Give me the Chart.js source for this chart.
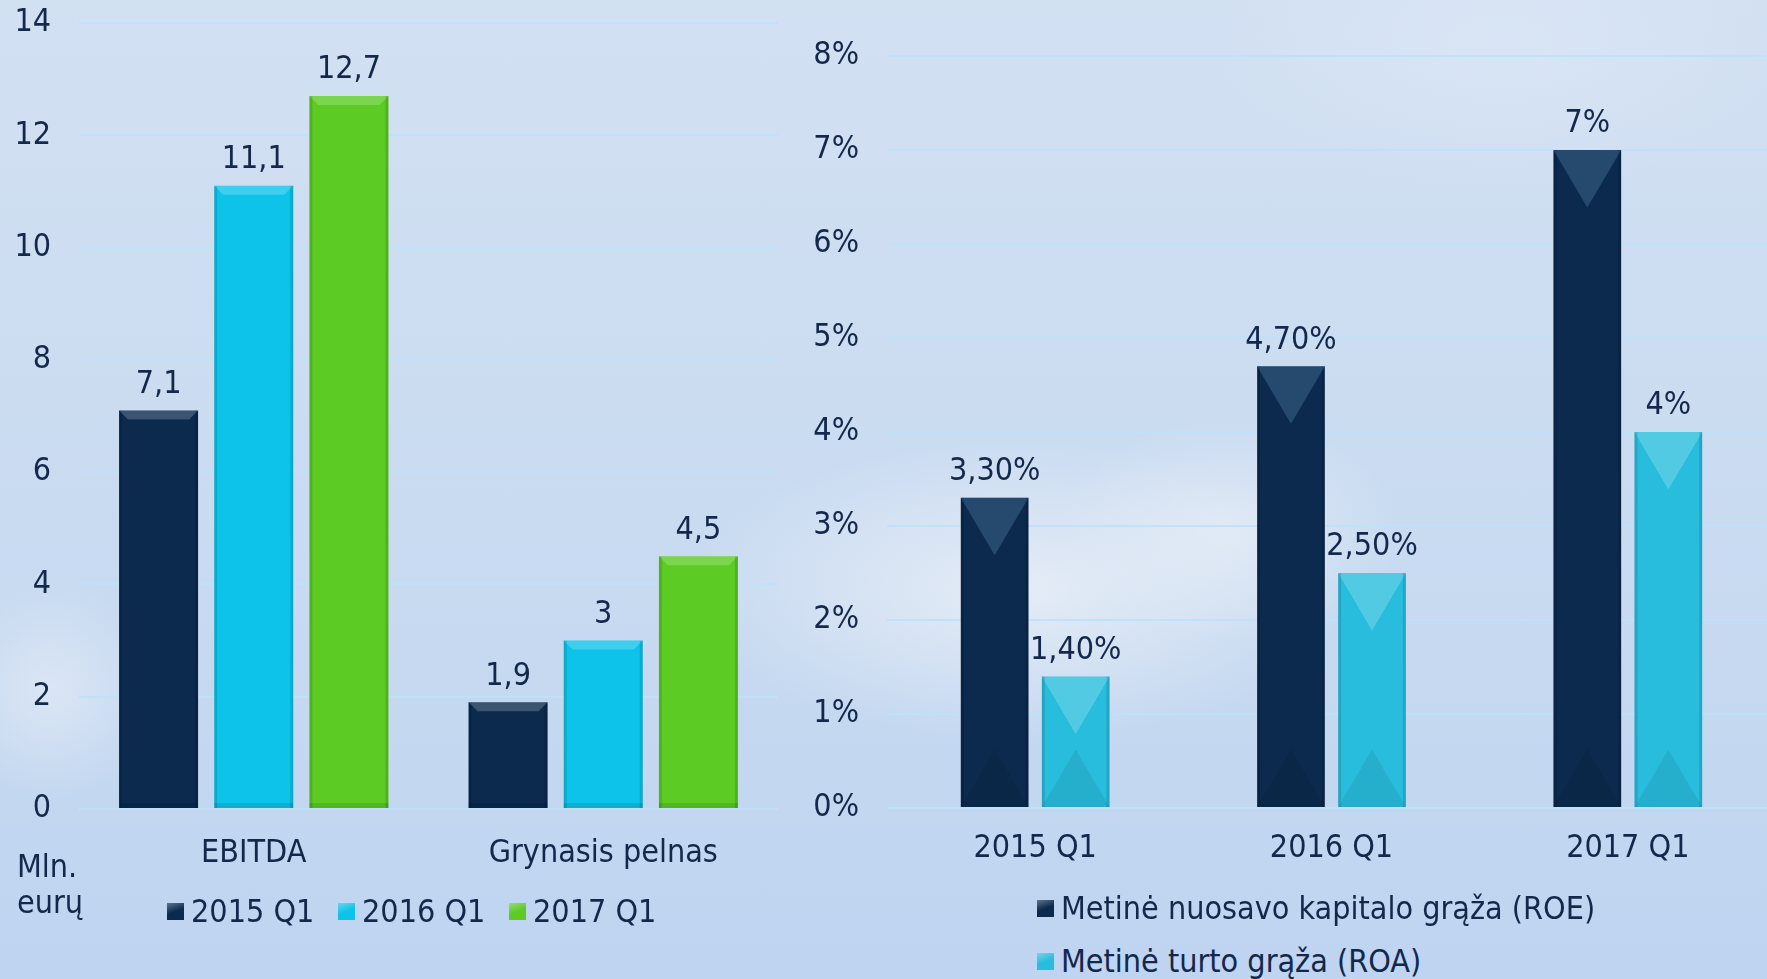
<!DOCTYPE html>
<html lang="lt">
<head>
<meta charset="utf-8">
<script src="https://cdn.jsdelivr.net/npm/chart.js@4/dist/chart.umd.min.js"></script>
<style>
  html, body { margin: 0; padding: 0; width: 1767px; height: 979px; overflow: hidden; }
  body {
    position: relative;
    font-family: "Liberation Sans Narrow", "DejaVu Sans Condensed", sans-serif;
    color: #13284a;
    background:
      radial-gradient(ellipse 330px 150px at 1020px 590px, rgba(238,242,248,0.75), rgba(238,242,248,0) 100%),
      radial-gradient(ellipse 170px 110px at 1230px 530px, rgba(236,241,248,0.6), rgba(236,241,248,0) 100%),
      radial-gradient(ellipse 110px 110px at 50px 690px, rgba(233,239,247,0.6), rgba(233,239,247,0) 100%),
      radial-gradient(ellipse 300px 150px at 1500px 40px, rgba(222,233,247,0.6), rgba(222,233,247,0) 100%),
      linear-gradient(#d2e0f2, #c9dbf1 55%, #bed4f0);
  }
  canvas { position: absolute; top: 0; }
  #kaire { left: 0; }
  #desine { left: 780px; }
  .zyme { position: absolute; font-size: 32px; line-height: 1; }
  .leg { position: absolute; display: flex; align-items: center; font-size: 32px; line-height: 1; white-space: nowrap; transform: translateY(-50%); }
  .leg i { display: inline-block; width: 17px; height: 17px; margin-right: 7px; }
</style>
</head>
<body>
<canvas id="kaire" width="790" height="900"></canvas>
<canvas id="desine" width="1000" height="900"></canvas>
<div class="zyme" style="left:17px; top:850px">Mln.</div>
<div class="zyme" style="left:17px; top:886px">eurų</div>
<div id="legKaire"></div>
<div id="legDesine"></div>
<script>
// kairė diagrama (mln. eurų)
const kategorijos = ["EBITDA", "Grynasis pelnas"]
const metai = ["2015 Q1", "2016 Q1", "2017 Q1"]
const q2015 = [7.1, 1.9]
const q2016 = [11.1, 3]
const q2017 = [12.7, 4.5]
const kairesTikai = [0, 2, 4, 6, 8, 10, 12, 14]

// dešinė diagrama (%)
const laikotarpiai = ["2015 Q1", "2016 Q1", "2017 Q1"]
const rodikliai = ["Metinė nuosavo kapitalo grąža (ROE)", "Metinė turto grąža (ROA)"]
const roe = [3.3, 4.7, 7]
const roa = [1.4, 2.5, 4]
const desinesTikai = [0, 1, 2, 3, 4, 5, 6, 7, 8]

const tamsi = "#0b2a4d"
const zydra = "#0dc3e9"
const zalia = "#5ccb24"
const zydra2 = "#29bddd"
const tekstas = "#13284a"
const tinklelis = "rgba(190,226,250,0.95)"
const sriftas = '"Liberation Sans Narrow", "DejaVu Sans Condensed", sans-serif'

Chart.defaults.font.family = sriftas
Chart.defaults.font.size = 32
Chart.defaults.color = tekstas

function kablelis(v) {
  return String(v).replace(".", ",")
}
function procentai(v) {
  if (Number.isInteger(v)) return v + "%"
  return v.toFixed(2).replace(".", ",") + "%"
}

// briaunų efektas ant stulpelių
const reljefas = {
  id: "reljefas",
  afterDatasetsDraw(chart, args, opts) {
    const ctx = chart.ctx
    chart.data.datasets.forEach((ds, i) => {
      const sviesa = i === 0 ? "rgba(120,170,210,0.25)" : "rgba(255,255,255,0.2)"
      chart.getDatasetMeta(i).data.forEach(bar => {
        const x0 = bar.x - bar.width / 2
        const x1 = bar.x + bar.width / 2
        const top = bar.y
        const bottom = bar.base
        ctx.save()
        if (opts.trikampis) {
          const h = Math.min(bar.width * 0.85, (bottom - top) / 2)
          ctx.fillStyle = sviesa
          ctx.beginPath()
          ctx.moveTo(x0, top); ctx.lineTo(x1, top); ctx.lineTo(bar.x, top + h)
          ctx.closePath(); ctx.fill()
          ctx.fillStyle = "rgba(0,0,0,0.07)"
          ctx.beginPath()
          ctx.moveTo(x0, bottom); ctx.lineTo(x1, bottom); ctx.lineTo(bar.x, bottom - h)
          ctx.closePath(); ctx.fill()
        } else {
          const d = 9
          ctx.fillStyle = "rgba(255,255,255,0.2)"
          ctx.beginPath()
          ctx.moveTo(x0, top); ctx.lineTo(x1, top); ctx.lineTo(x1 - d, top + d); ctx.lineTo(x0 + d, top + d)
          ctx.closePath(); ctx.fill()
          ctx.fillStyle = "rgba(0,0,0,0.1)"
          ctx.fillRect(x0, bottom - 5, bar.width, 5)
        }
        ctx.fillStyle = "rgba(0,0,0,0.12)"
        ctx.fillRect(x0, top, 3, bottom - top)
        ctx.fillRect(x1 - 3, top, 3, bottom - top)
        ctx.restore()
      })
    })
  }
}

// reikšmės virš stulpelių
const reiksmes = {
  id: "reiksmes",
  afterDatasetsDraw(chart, args, opts) {
    const ctx = chart.ctx
    ctx.save()
    ctx.font = "32px " + sriftas
    ctx.fillStyle = tekstas
    ctx.textAlign = "center"
    ctx.textBaseline = "middle"
    chart.data.datasets.forEach((ds, i) => {
      chart.getDatasetMeta(i).data.forEach((bar, j) => {
        ctx.fillText(opts.formatas(ds.data[j]), bar.x, bar.y - 26)
      })
    })
    ctx.restore()
  }
}

function asys(max, tikai, plotis, aukstis, xPad, formatas) {
  return {
    x: {
      grid: { display: false, drawTicks: false },
      border: { display: false },
      ticks: { padding: xPad, color: tekstas },
      afterFit: s => { s.height = aukstis }
    },
    y: {
      min: 0,
      max: max,
      afterBuildTicks: s => { s.ticks = tikai.map(v => ({ value: v })) },
      grid: { color: tinklelis, lineWidth: 2, drawTicks: true, tickLength: 28, tickColor: "rgba(0,0,0,0)" },
      border: { display: false },
      ticks: { padding: 0, color: tekstas, callback: formatas },
      afterFit: s => { s.width = plotis }
    }
  }
}

new Chart(document.getElementById("kaire"), {
  type: "bar",
  data: {
    labels: kategorijos,
    datasets: [
      { label: metai[0], data: q2015, backgroundColor: tamsi },
      { label: metai[1], data: q2016, backgroundColor: zydra },
      { label: metai[2], data: q2017, backgroundColor: zalia }
    ]
  },
  options: {
    responsive: false,
    animation: false,
    devicePixelRatio: 1,
    datasets: { bar: { categoryPercentage: 0.817, barPercentage: 0.83 } },
    layout: { padding: { top: 23, right: 12, left: 0, bottom: 0 } },
    plugins: {
      legend: { display: false },
      tooltip: { enabled: false },
      reljefas: { trikampis: false },
      reiksmes: { formatas: kablelis }
    },
    scales: asys(14, kairesTikai, 79, 91, 25, v => v)
  },
  plugins: [reljefas, reiksmes]
})

new Chart(document.getElementById("desine"), {
  type: "bar",
  data: {
    labels: laikotarpiai,
    datasets: [
      { label: rodikliai[0], data: roe, backgroundColor: tamsi },
      { label: rodikliai[1], data: roa, backgroundColor: zydra2 }
    ]
  },
  options: {
    responsive: false,
    animation: false,
    devicePixelRatio: 1,
    datasets: { bar: { categoryPercentage: 0.547, barPercentage: 0.835 } },
    layout: { padding: { top: 56, right: 4, left: 0, bottom: 0 } },
    plugins: {
      legend: { display: false },
      tooltip: { enabled: false },
      reljefas: { trikampis: true },
      reiksmes: { formatas: procentai }
    },
    scales: asys(8, desinesTikai, 107, 92, 21, v => v + "%")
  },
  plugins: [reljefas, reiksmes]
})

// legendos
function legenda(vieta, pavad, spalvos, pozicijos) {
  const el = document.getElementById(vieta)
  pavad.forEach((p, i) => {
    const d = document.createElement("div")
    d.className = "leg"
    d.style.left = pozicijos[i][0] + "px"
    d.style.top = pozicijos[i][1] + "px"
    d.innerHTML = '<i style="background:linear-gradient(160deg, rgba(255,255,255,0.35), rgba(255,255,255,0) 50%), ' + spalvos[i] + '"></i>' + p
    el.appendChild(d)
  })
}
legenda("legKaire", metai, [tamsi, zydra, zalia], [[167, 911], [338, 911], [509, 911]])
legenda("legDesine", rodikliai, [tamsi, zydra2], [[1037, 908], [1037, 961]])
</script>
</body>
</html>
